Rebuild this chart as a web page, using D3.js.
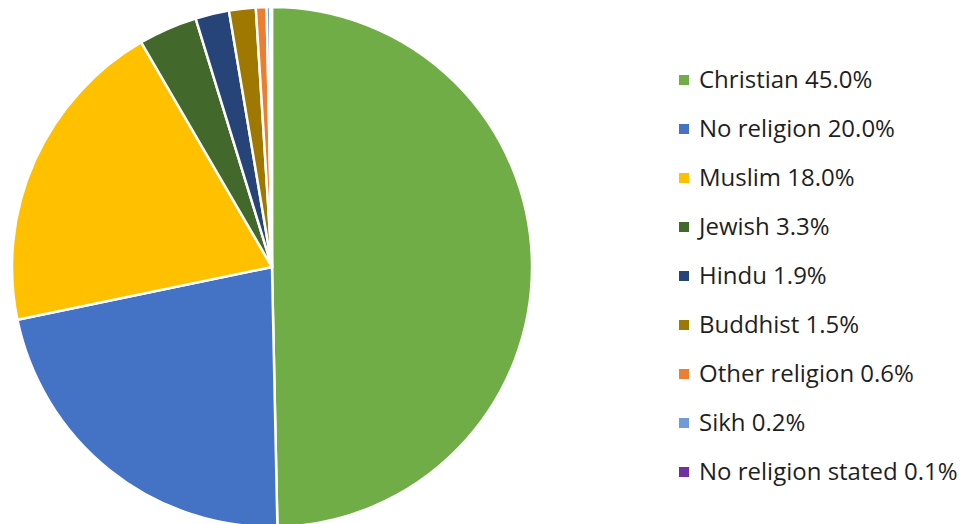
<!DOCTYPE html>
<html>
<head>
<meta charset="utf-8">
<script src="https://cdn.jsdelivr.net/npm/d3@7"></script>
<style>
  html, body { margin: 0; padding: 0; background: #fff; }
  svg { display: block; }
</style>
</head>
<body>
<div id="chart"></div>
<script>
// 数据
const religions = ["Christian", "No religion", "Muslim", "Jewish", "Hindu", "Buddhist", "Other religion", "Sikh", "No religion stated"];
const shares = [45.0, 20.0, 18.0, 3.3, 1.9, 1.5, 0.6, 0.2, 0.1];
const colors = ["#70ad47", "#4472c4", "#ffc000", "#43682b", "#264478", "#9e7800", "#ed7d31", "#6f9bd8", "#7030a0"];

const width = 967, height = 524;
const cx = 272, cy = 267, radius = 260;

const svg = d3.select("#chart")
    .append("svg")
    .attr("width", width)
    .attr("height", height);

const data = religions.map((name, i) => ({ name, value: shares[i] }));

const color = d3.scaleOrdinal().domain(religions).range(colors);

// 饼图（从顶部顺时针）
const pie = d3.pie().value(d => d.value).sort(null);
const arc = d3.arc().innerRadius(0).outerRadius(radius);

svg.append("g")
    .attr("transform", `translate(${cx},${cy})`)
    .selectAll("path")
    .data(pie(data))
    .join("path")
    .attr("d", arc)
    .attr("fill", d => color(d.data.name))
    .attr("stroke", "#fff")
    .attr("stroke-width", 2.5)
    .attr("stroke-linejoin", "round");

// 图例
const legend = svg.append("g").attr("transform", "translate(679, 80)");

const rows = legend.selectAll("g")
    .data(data)
    .join("g")
    .attr("transform", (d, i) => `translate(0, ${i * 49})`);

rows.append("rect")
    .attr("x", 0)
    .attr("y", -5)
    .attr("width", 10)
    .attr("height", 10)
    .attr("fill", d => color(d.name));

rows.append("text")
    .attr("x", 20)
    .attr("y", 0)
    .attr("dy", "0.35em")
    .attr("fill", "#1f1f1f")
    .style("font-family", "'Open Sans', sans-serif")
    .style("font-size", "24px")
    .text(d => `${d.name} ${d.value.toFixed(1)}%`);
</script>
</body>
</html>
